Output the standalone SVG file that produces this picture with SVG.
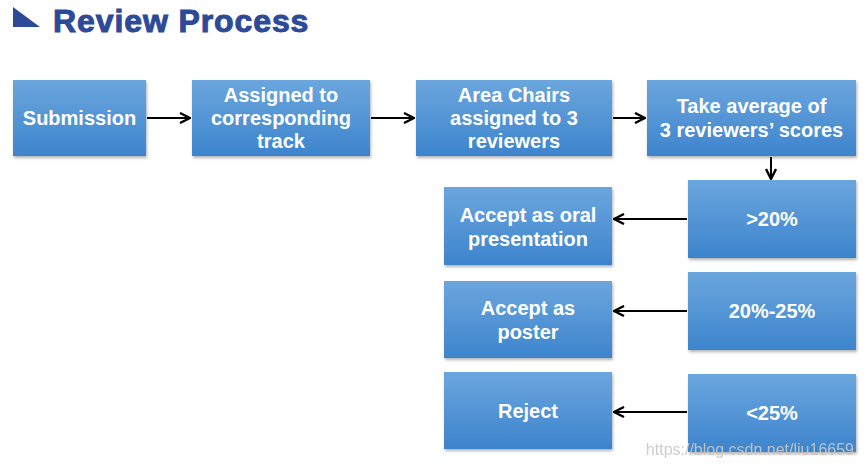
<svg xmlns="http://www.w3.org/2000/svg" width="865" height="466" viewBox="0 0 865 466">
<defs>
<linearGradient id="g" x1="0" y1="0" x2="0" y2="1">
<stop offset="0" stop-color="#6ba6de"/>
<stop offset="1" stop-color="#3d84cd"/>
</linearGradient>
<filter id="sh" x="-10%" y="-10%" width="125%" height="130%">
<feDropShadow dx="1" dy="2" stdDeviation="1.5" flood-color="#000" flood-opacity="0.3"/>
</filter>
<marker id="ah" viewBox="0 0 12 12" refX="11" refY="6" markerWidth="12" markerHeight="12" markerUnits="userSpaceOnUse" orient="auto">
<path d="M1,1 L11,6 L1,11" fill="none" stroke="#000" stroke-width="2.4"/>
</marker>
</defs>
<style>
.box{fill:url(#g);filter:url(#sh)}
.t{font-family:"Liberation Sans",Arial,sans-serif;font-weight:bold;font-size:20px;fill:#fff;text-anchor:middle}
.c{stroke:#000;stroke-width:2;fill:none;marker-end:url(#ah)}
</style>
<rect width="865" height="466" fill="#fff"/>
<g id="title">
<polygon points="13,7 13,27 40,27" fill="#2d4a99"/>
<text x="53" y="32" font-family="'Liberation Sans',Arial,sans-serif" font-weight="bold" font-size="32" fill="#2d4a99" stroke="#2d4a99" stroke-width="1" letter-spacing="0.9">Review Process</text>
</g>
<g id="submission"><rect class="box" x="13" y="80" width="133" height="76"/><text class="t" x="79.5" y="125">Submission</text></g>
<g id="assigned"><rect class="box" x="192" y="80" width="178" height="76"/><text class="t" x="281" y="102">Assigned to</text><text class="t" x="281" y="125">corresponding</text><text class="t" x="281" y="148">track</text></g>
<g id="areachairs"><rect class="box" x="416" y="80" width="196" height="76"/><text class="t" x="514" y="102">Area Chairs</text><text class="t" x="514" y="125">assigned to 3</text><text class="t" x="514" y="148">reviewers</text></g>
<g id="average"><rect class="box" x="647" y="80" width="209" height="76"/><text class="t" x="751.5" y="113">Take average of</text><text class="t" x="751.5" y="137">3 reviewers’ scores</text></g>
<g id="gt20"><rect class="box" x="688" y="180" width="168" height="78"/><text class="t" x="772" y="226">&gt;20%</text></g>
<g id="mid"><rect class="box" x="688" y="272" width="168" height="78"/><text class="t" x="772" y="318">20%-25%</text></g>
<g id="lt25"><rect class="box" x="688" y="374" width="168" height="78"/><text class="t" x="772" y="420">&lt;25%</text></g>
<g id="oral"><rect class="box" x="444" y="187" width="168" height="78"/><text class="t" x="528" y="222">Accept as oral</text><text class="t" x="528" y="246">presentation</text></g>
<g id="poster"><rect class="box" x="444" y="281" width="168" height="77"/><text class="t" x="528" y="315">Accept as</text><text class="t" x="528" y="339">poster</text></g>
<g id="reject"><rect class="box" x="444" y="372" width="168" height="77"/><text class="t" x="528" y="418">Reject</text></g>
<g id="connectors">
<line class="c" x1="147" y1="118" x2="190" y2="118"/>
<line class="c" x1="371" y1="118" x2="414" y2="118"/>
<line class="c" x1="613" y1="118" x2="645" y2="118"/>
<line class="c" x1="771" y1="157" x2="771" y2="179"/>
<line class="c" x1="687" y1="219" x2="614" y2="219"/>
<line class="c" x1="687" y1="311" x2="614" y2="311"/>
<line class="c" x1="687" y1="412" x2="614" y2="412"/>
</g>
<text x="854" y="455" text-anchor="end" font-family="'Liberation Sans',Arial,sans-serif" font-size="16" fill="#c8c8c8" opacity="0.9">https://blog.csdn.net/liu16659</text>
</svg>
